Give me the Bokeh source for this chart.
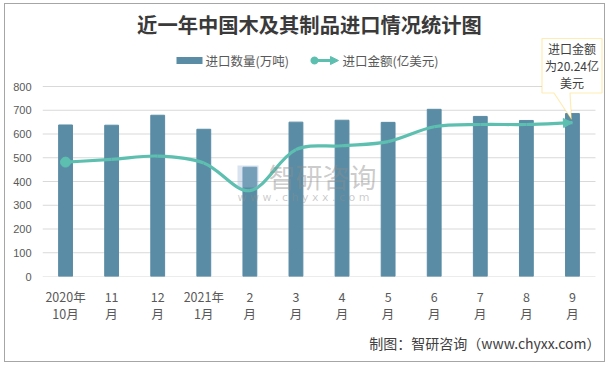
import numpy as np
from bokeh.plotting import figure
from bokeh.models import (Range1d, FixedTicker, Label, PolyAnnotation,
                          Arrow, NormalHead)
from bokeh.embed import file_html
from bokeh.resources import INLINE

# ---------------- data ----------------
months = ["2020年\n10月", "11\n月", "12\n月", "2021年\n1月", "2\n月", "3\n月",
          "4\n月", "5\n月", "6\n月", "7\n月", "8\n月", "9\n月"]
volume = [638, 637, 679, 620, 460, 650, 658, 649, 704, 674, 657, 686]      # 万吨
amount = [15.05, 15.4, 15.85, 14.95, 11.3, 16.7, 17.2, 17.75, 19.7, 20.0, 20.0, 20.24]  # 亿美元
y_ticks = [0, 100, 200, 300, 400, 500, 600, 700, 800]

title_text = "近一年中国木及其制品进口情况统计图"
legend_bar = "进口数量(万吨)"
legend_line = "进口金额(亿美元)"
callout_text = "进口金额\n为20.24亿\n美元"
footer_text = "制图：智研咨询（www.chyxx.com）"
wm_text = "智研咨询"
wm_url = "w w w . c h y x x . c o m"

# ---------------- layout (reference pixel geometry) ----------------
OX, OY = 5, 4                 # canvas origin on the page (inside the CSS border)
W, H = 601, 359               # canvas size
PL, PR, PT, PB = 42, 595, 86, 276   # plot-area box on the page
YMAX, Y2MAX = 800, 25
N = len(months)

BAR = "#5A8CA5"
TEAL = "#5DBFB0"
TXT = "#595959"
GRID = "#D9D9D9"
CJK = "Noto Sans CJK SC"


def X(rx):  # page-pixel x -> data x (bar slots 0..N)
    return (rx - PL) / (PR - PL) * N


def Y(ry):  # page-pixel y -> primary data y
    return (PB - ry) / (PB - PT) * YMAX


y2_end = Y(OY) / YMAX * Y2MAX

p = figure(x_range=Range1d(0, X(OX + W)), y_range=Range1d(0, Y(OY)),
           width=W, height=H, output_backend="svg", toolbar_location=None,
           min_border_left=PL - OX, min_border_right=0,
           min_border_top=0, min_border_bottom=OY + H - PB)
p.title.visible = False
p.styles = {"margin-left": "%dpx" % (OX - 1), "margin-top": "%dpx" % (OY - 1),
            "border": "1px solid #A6A6A6"}
p.extra_y_ranges = {"amt": Range1d(0, y2_end)}
p.outline_line_color = None
p.background_fill_color = "white"
p.border_fill_color = "white"
p.xgrid.grid_line_color = None
p.ygrid.grid_line_color = None

# axes
xs = np.arange(N) + 0.5
p.yaxis.ticker = FixedTicker(ticks=y_ticks)
p.yaxis.axis_line_color = None
p.yaxis.major_tick_line_color = None
p.yaxis.minor_tick_line_color = None
p.yaxis.major_label_text_font = "Liberation Sans"
p.yaxis.major_label_text_font_size = "11px"
p.yaxis.major_label_text_color = TXT
p.yaxis.major_label_standoff = 5

p.xaxis.ticker = FixedTicker(ticks=list(xs))
p.xaxis.major_label_overrides = {float(x): m for x, m in zip(xs, months)}
p.xaxis.axis_line_color = None
p.xaxis.major_tick_line_color = None
p.xaxis.minor_tick_line_color = None
p.xaxis.major_label_text_font = CJK
p.xaxis.major_label_text_font_size = "12.5px"
p.xaxis.major_label_text_color = TXT
p.xaxis.major_label_standoff = 4
p.xaxis.major_label_text_line_height = 0.94

# gridlines limited to the plot area
p.segment(x0=[0] * len(y_ticks), x1=[N] * len(y_ticks), y0=y_ticks, y1=y_ticks,
          line_color=GRID, line_width=1)

# bars
p.vbar(x=xs, top=volume, width=0.3, fill_color=BAR, line_color=BAR)

# smoothed line: chord-weighted Catmull-Rom -> Bezier, computed in pixel space
sx = (PR - PL) / N
sy = (PB - PT) / Y2MAX
ys = np.array(amount, dtype=float)
P = np.column_stack([xs * sx, ys * sy])
Pp = np.vstack([P[:1], P, P[-1:]])
c_out, c_in = [], []
for i in range(N):
    prev, cur, nxt = Pp[i], Pp[i + 1], Pp[i + 2]
    d0 = np.hypot(*(cur - prev))
    d1 = np.hypot(*(nxt - cur))
    T = nxt - prev
    tot = d0 + d1 if d0 + d1 > 0 else 1.0
    c_out.append(cur + T * (d1 / tot) / 3)
    c_in.append(cur - T * (d0 / tot) / 3)
c_out = np.array(c_out)
c_in = np.array(c_in)
p.bezier(x0=xs[:-1], y0=ys[:-1], x1=xs[1:], y1=ys[1:],
         cx0=c_out[:-1, 0] / sx, cy0=c_out[:-1, 1] / sy,
         cx1=c_in[1:, 0] / sx, cy1=c_in[1:, 1] / sy,
         y_range_name="amt", line_color=TEAL, line_width=3.2)
p.scatter(x=xs[:1], y=ys[:1], size=10, y_range_name="amt",
          fill_color=TEAL, line_color=TEAL)
eps = 0.05
ex, ey = c_in[-1, 0] / sx, c_in[-1, 1] / sy
p.add_layout(Arrow(end=NormalHead(size=9, fill_color=TEAL, line_color=TEAL),
                   x_start=xs[-1] - eps * (xs[-1] - ex),
                   y_start=ys[-1] - eps * (ys[-1] - ey),
                   x_end=xs[-1], y_end=ys[-1], y_range_name="amt",
                   line_alpha=0))

# watermark
p.add_layout(PolyAnnotation(xs=[X(237), X(258), X(258), X(237)],
                            ys=[Y(165), Y(165), Y(187), Y(187)],
                            fill_color="#9DB8D6", fill_alpha=0.4, line_alpha=0))
p.add_layout(Label(x=X(268), y=Y(176), text=wm_text, text_font=CJK,
                   text_font_size="27px", text_color="#8C8C8C", text_alpha=0.45,
                   text_baseline="middle"))
p.add_layout(Label(x=X(237), y=Y(197), text=wm_url, text_font="DejaVu Sans",
                   text_font_size="11px", text_color="#8C8C8C", text_alpha=0.45,
                   text_baseline="middle"))

# title
p.add_layout(Label(x=X(309), y=Y(23), text=title_text, text_font=CJK,
                   text_font_size="20.3px", text_font_style="bold",
                   text_color="#3A3A3A", text_align="center", text_baseline="middle"))

# legend
p.add_layout(PolyAnnotation(xs=[X(176), X(202), X(202), X(176)],
                            ys=[Y(56.5), Y(56.5), Y(63.5), Y(63.5)],
                            fill_color=BAR, fill_alpha=1, line_alpha=0))
p.add_layout(Label(x=X(205), y=Y(60), text=legend_bar, text_font=CJK,
                   text_font_size="12.5px", text_color=TXT, text_baseline="middle"))
ang = np.linspace(0, 2 * np.pi, 24, endpoint=False)
p.add_layout(PolyAnnotation(xs=[X(314 + 4 * np.cos(a)) for a in ang],
                            ys=[Y(60 + 4 * np.sin(a)) for a in ang],
                            fill_color=TEAL, fill_alpha=1, line_alpha=0))
p.add_layout(Arrow(end=NormalHead(size=8, fill_color=TEAL, line_color=TEAL),
                   x_start=X(314), y_start=Y(60), x_end=X(338), y_end=Y(60),
                   line_color=TEAL, line_width=3))
p.add_layout(Label(x=X(342), y=Y(60), text=legend_line, text_font=CJK,
                   text_font_size="12.5px", text_color=TXT, text_baseline="middle"))

# callout
cx = [541.5, 601.5, 601.5, 569.5, 571, 553.5, 541.5]
cy = [38, 38, 92.5, 92.5, 119, 92.5, 92.5]
p.add_layout(PolyAnnotation(xs=[X(v) for v in cx], ys=[Y(v) for v in cy],
                            fill_color="white", fill_alpha=1,
                            line_color="#FFC000", line_width=1.2))
p.add_layout(Label(x=X(571.5), y=Y(65), text=callout_text, text_font=CJK,
                   text_font_size="12px", text_color="#404040",
                   text_align="center", text_baseline="middle",
                   text_line_height=0.98))

# footer (in the panel below the x axis)
p.add_layout(Label(x=X(600), y=Y(342), text=footer_text, text_font=CJK,
                   text_font_size="14px", text_color="#404040",
                   text_align="right", text_baseline="middle"), "below")

open("out.html", "w").write(file_html(p, INLINE))
